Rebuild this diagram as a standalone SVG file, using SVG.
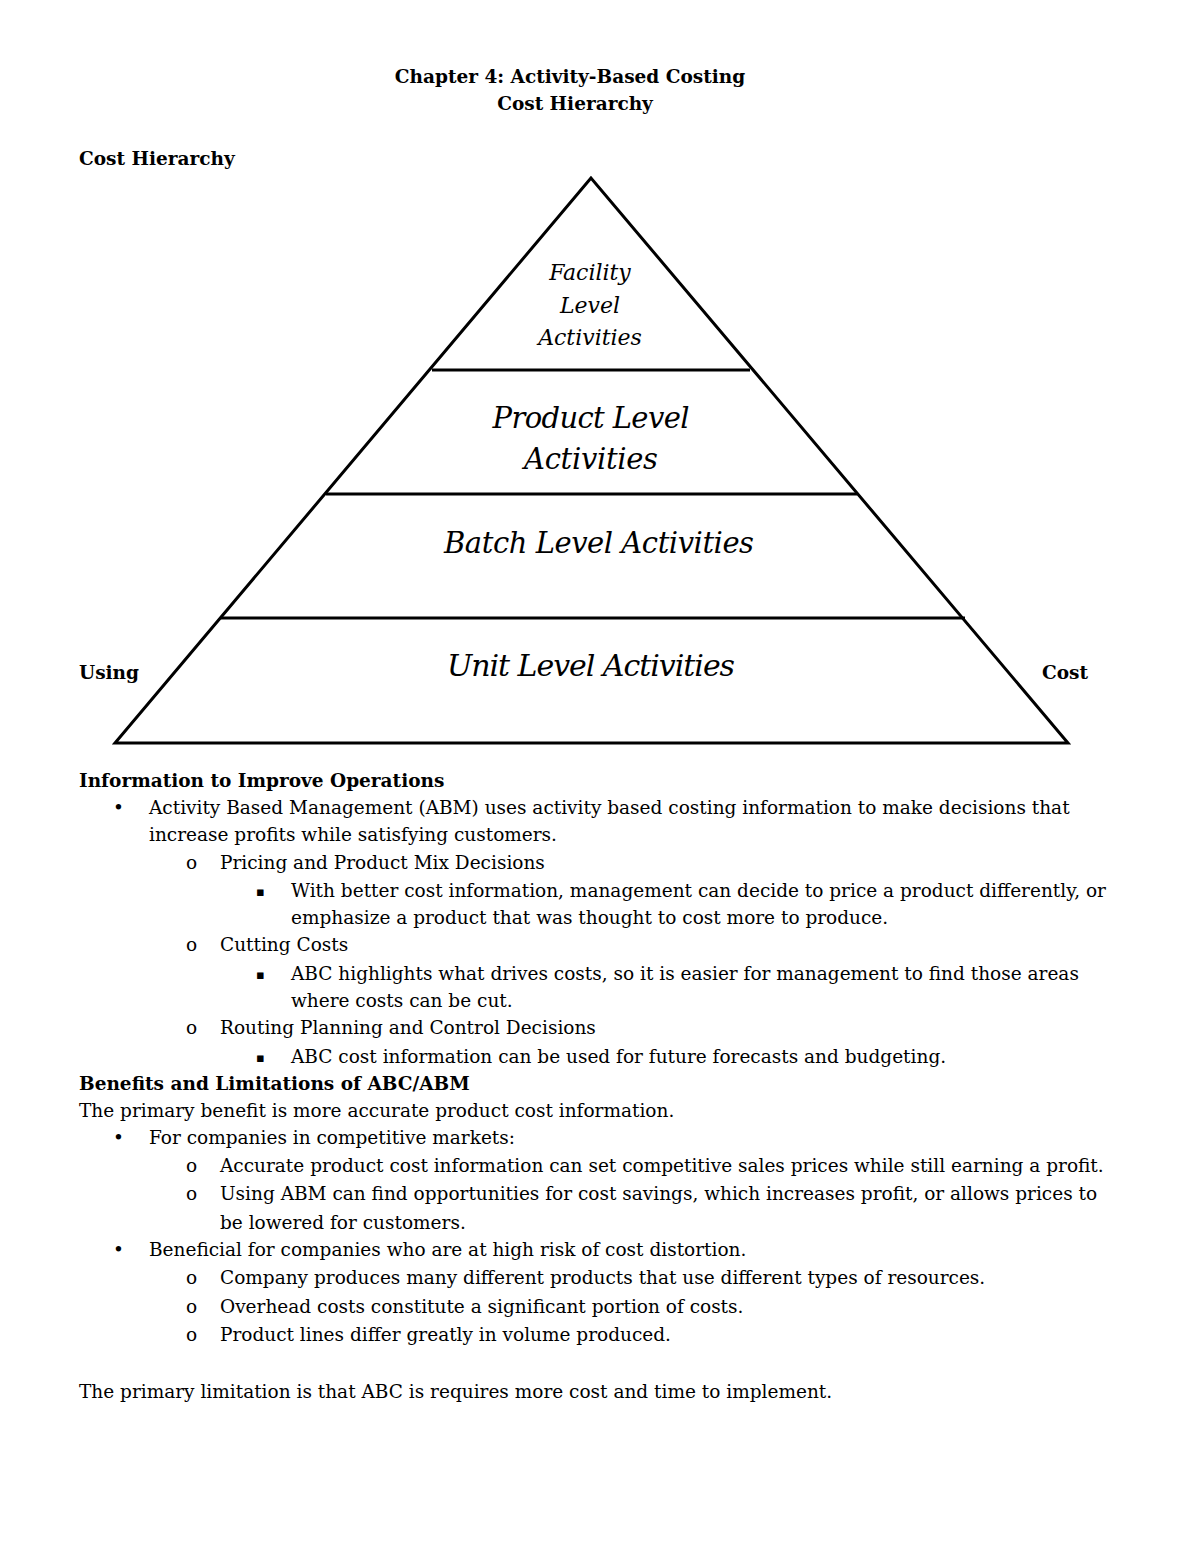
<svg xmlns="http://www.w3.org/2000/svg" width="1200" height="1553" viewBox="0 0 1200 1553">
<style>
text{font-family:"DejaVu Serif","Liberation Serif",serif;font-size:18.5px;fill:#000}
.b{font-weight:bold}
.i{font-style:italic;text-anchor:middle;font-family:"DejaVu Serif",serif}
.f{font-size:22px}
.p{font-size:29px}
.u{font-size:30px}
.s{font-size:13px}
.ln{stroke:#000;stroke-width:3;fill:none}
</style>
<rect width="1200" height="1553" fill="#fff"/>
<text class="b" x="570" y="83" text-anchor="middle">Chapter 4: Activity-Based Costing</text>
<text class="b" x="575" y="110" text-anchor="middle">Cost Hierarchy</text>
<text class="b" x="79" y="165">Cost Hierarchy</text>
<g id="pyramid">
<polygon class="ln" points="591,178 115,743 1068,743"/>
<line class="ln" x1="432" y1="370" x2="750" y2="370"/>
<line class="ln" x1="326" y1="494" x2="857" y2="494"/>
<line class="ln" x1="221" y1="618" x2="965" y2="618"/>
</g>
<g id="facility"><text class="i f" x="590" y="280">Facility</text><text class="i f" x="590" y="313">Level</text><text class="i f" x="590" y="345">Activities</text></g>
<g id="product"><text class="i p" x="591" y="428" textLength="197">Product Level</text><text class="i p" x="591" y="469" textLength="134">Activities</text></g>
<g id="batch"><text class="i p" x="599" y="553" textLength="310">Batch Level Activities</text></g>
<g id="unit"><text class="i u" x="591" y="676" textLength="288">Unit Level Activities</text></g>
<g id="connectors"/>
<text class="b" x="79" y="679">Using</text>
<text class="b" x="1042" y="679">Cost</text>
<text class="b" x="79" y="787">Information to Improve Operations</text>
<text x="113" y="814">•</text><text x="149" y="814">Activity Based Management (ABM) uses activity based costing information to make decisions that</text>
<text x="149" y="841">increase profits while satisfying customers.</text>
<text x="186" y="869">o</text><text x="220" y="869">Pricing and Product Mix Decisions</text>
<text class="s" x="256" y="896">▪</text><text x="291" y="897">With better cost information, management can decide to price a product differently, or</text>
<text x="291" y="924">emphasize a product that was thought to cost more to produce.</text>
<text x="186" y="951">o</text><text x="220" y="951">Cutting Costs</text>
<text class="s" x="256" y="979">▪</text><text x="291" y="980">ABC highlights what drives costs, so it is easier for management to find those areas</text>
<text x="291" y="1007">where costs can be cut.</text>
<text x="186" y="1034">o</text><text x="220" y="1034">Routing Planning and Control Decisions</text>
<text class="s" x="256" y="1062">▪</text><text x="291" y="1063">ABC cost information can be used for future forecasts and budgeting.</text>
<text class="b" x="79" y="1090">Benefits and Limitations of ABC/ABM</text>
<text x="79" y="1117">The primary benefit is more accurate product cost information.</text>
<text x="113" y="1144">•</text><text x="149" y="1144">For companies in competitive markets:</text>
<text x="186" y="1172">o</text><text x="220" y="1172">Accurate product cost information can set competitive sales prices while still earning a profit.</text>
<text x="186" y="1200">o</text><text x="220" y="1200">Using ABM can find opportunities for cost savings, which increases profit, or allows prices to</text>
<text x="220" y="1229">be lowered for customers.</text>
<text x="113" y="1256">•</text><text x="149" y="1256">Beneficial for companies who are at high risk of cost distortion.</text>
<text x="186" y="1284">o</text><text x="220" y="1284">Company produces many different products that use different types of resources.</text>
<text x="186" y="1313">o</text><text x="220" y="1313">Overhead costs constitute a significant portion of costs.</text>
<text x="186" y="1341">o</text><text x="220" y="1341">Product lines differ greatly in volume produced.</text>
<text x="79" y="1398">The primary limitation is that ABC is requires more cost and time to implement.</text>
</svg>
